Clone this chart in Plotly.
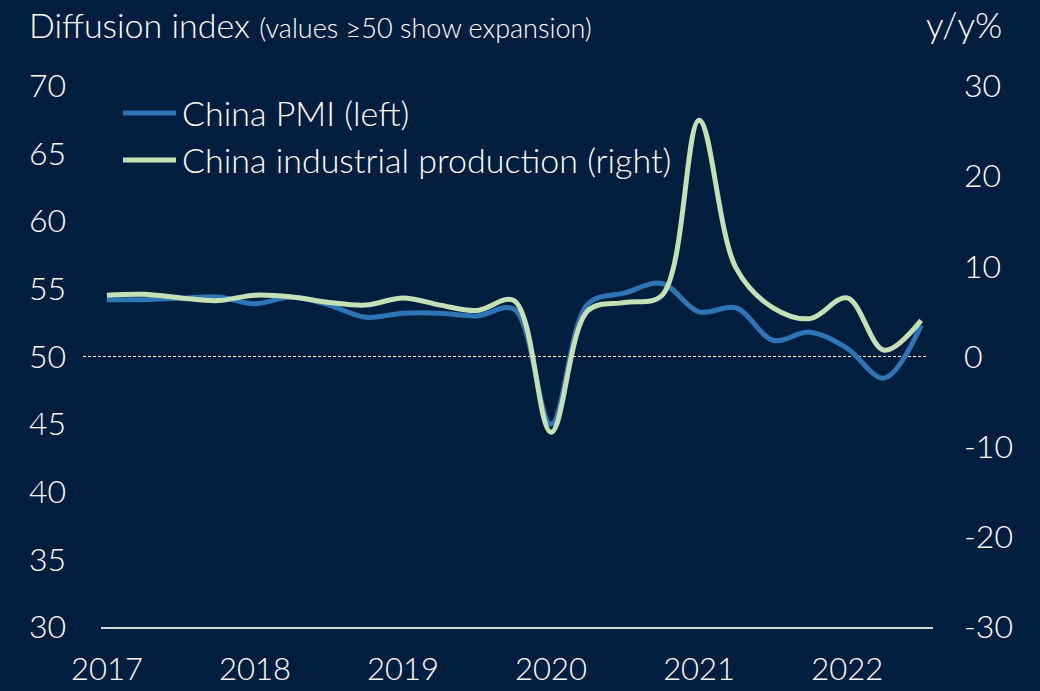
import plotly.graph_objects as go

quarters = [f"{y}Q{q}" for y in range(2017, 2023) for q in range(1, 5)][:23]
pmi = [54.2, 54.2, 54.3, 54.4, 53.9, 54.4, 53.8, 52.9, 53.2, 53.2, 53.0, 53.5,
       45.0, 53.9, 54.7, 55.4, 53.3, 53.6, 51.2, 51.8, 50.6, 48.4, 52.3]
ip = [6.8, 6.9, 6.5, 6.2, 6.8, 6.6, 6.0, 5.7, 6.5, 5.7, 5.1, 6.2,
      -8.4, 5.1, 6.0, 6.8, 26.2, 9.8, 5.4, 4.2, 6.5, 0.7, 4.0]
year_ticks = ["2017Q1", "2018Q1", "2019Q1", "2020Q1", "2021Q1", "2022Q1"]
year_labels = ["2017", "2018", "2019", "2020", "2021", "2022"]
left_ticks = [30, 35, 40, 45, 50, 55, 60, 65, 70]
right_ticks = [-30, -20, -10, 0, 10, 20, 30]
series_names = ["China PMI (left)", "China industrial production (right)"]

BG = "#021E3E"
BLUE = "#2E75B6"
GREEN = "#C5E0B4"
FONT = "Lato"

L, R, T, B = 101, 107, 86, 64
W, H = 1040, 691
pw = W - L - R
ph = H - T - B


def px(xp):
    return (xp - L) / pw


def py(yp):
    return 1 - (yp - T) / ph


fig = go.Figure()
fig.add_trace(go.Scatter(x=quarters, y=pmi, name=series_names[0], mode="lines",
                         line=dict(color=BLUE, width=5, shape="spline", smoothing=1),
                         yaxis="y", showlegend=False))
fig.add_trace(go.Scatter(x=quarters, y=ip, name=series_names[1], mode="lines",
                         line=dict(color=GREEN, width=5, shape="spline", smoothing=1),
                         yaxis="y2", showlegend=False))

shapes = [dict(type="line", xref="paper", yref="y", x0=px(83), x1=px(928),
               y0=50, y1=50, line=dict(color="white", width=1, dash="3px,2px"), layer="below")]
annotations = [
    dict(text="Diffusion index <span style='font-size:27px'>(values ≥50 show expansion)</span>",
         xref="paper", yref="paper", x=px(27), y=py(24),
         xanchor="left", yanchor="middle", showarrow=False, font=dict(size=34)),
    dict(text="y/y%", xref="paper", yref="paper", x=px(1004), y=py(24),
         xanchor="right", yanchor="middle", showarrow=False, font=dict(size=35)),
]
# legend (drawn manually to match long sample lines)
for i, (name, col) in enumerate(zip(series_names, [BLUE, GREEN])):
    yc = 113 + i * 47
    shapes.append(dict(type="line", xref="paper", yref="paper", x0=px(123), x1=px(176),
                       y0=py(yc), y1=py(yc), line=dict(color=col, width=5)))
    annotations.append(dict(text=name, xref="paper", yref="paper", x=px(180), y=py(yc),
                            xanchor="left", yanchor="middle", showarrow=False,
                            font=dict(size=34)))

fig.update_layout(
    width=W, height=H,
    paper_bgcolor=BG, plot_bgcolor=BG,
    margin=dict(l=L, r=R, t=T, b=B, pad=0, autoexpand=False),
    font=dict(family=FONT, color="white", size=31, weight=300),
    showlegend=False,
    xaxis=dict(type="category", range=[-0.16, 22.32], tickmode="array",
               tickvals=year_ticks, ticktext=year_labels, showgrid=False, zeroline=False,
               showline=True, linecolor="#D9D9D9", linewidth=2, ticks="", ticklabelstandoff=14,
               tickfont=dict(size=31), automargin=False),
    yaxis=dict(range=[30, 70], tickmode="array", tickvals=left_ticks,
               ticktext=[str(v) for v in left_ticks], showgrid=False, zeroline=False,
               showline=False, ticks="", ticklabelstandoff=34, tickfont=dict(size=32),
               automargin=False),
    yaxis2=dict(range=[-30, 30], tickmode="array", tickvals=right_ticks,
                ticktext=[str(v) for v in right_ticks], overlaying="y", side="right",
                showgrid=False, zeroline=False, showline=False, ticks="",
                ticklabelstandoff=30, tickfont=dict(size=32), automargin=False),
    shapes=shapes,
    annotations=annotations,
)

fig.write_html("out.html", config={"displayModeBar": False},
               post_script="document.body.style.margin='0';document.body.style.padding='0';")
